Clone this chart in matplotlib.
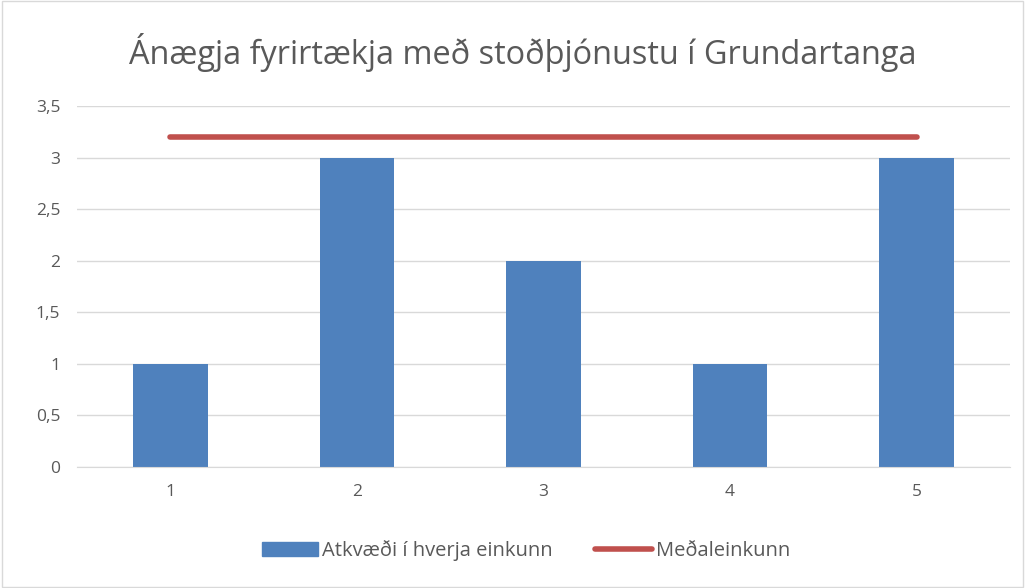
import matplotlib.pyplot as plt
from matplotlib.lines import Line2D
from matplotlib.patches import Patch, Rectangle

plt.rcParams['font.family'] = ['Open Sans', 'DejaVu Sans']

categories = [1, 2, 3, 4, 5]
votes = [1, 3, 2, 1, 3]
average = [3.2, 3.2, 3.2, 3.2, 3.2]
yticks = [0, 0.5, 1, 1.5, 2, 2.5, 3, 3.5]
ytick_labels = ['0', '0,5', '1', '1,5', '2', '2,5', '3', '3,5']

fig = plt.figure(figsize=(10.25, 5.88), dpi=100)
ax = fig.add_axes([77 / 1025, 1 - 467 / 588, 933 / 1025, 361 / 588])

ax.bar(categories, votes, width=0.4, color='#4F81BD', zorder=2)
ax.plot(categories, average, color='#C0504D', linewidth=4, solid_capstyle='round', zorder=3)

ax.set_xlim(0.5, 5.5)
ax.set_ylim(0, 3.5)
ax.set_yticks(yticks)
ax.set_yticklabels(ytick_labels)
ax.set_xticks(categories)
ax.grid(axis='y', color='#D9D9D9', linewidth=1, zorder=0)
for s in ['top', 'right', 'left']:
    ax.spines[s].set_visible(False)
ax.spines['bottom'].set_color('#D9D9D9')
ax.tick_params(length=0, labelsize=12.5, colors='#595959', pad=12)

fig.text(523 / 1025, 1 - 52 / 588, 'Ánægja fyrirtækja með stoðþjónustu í Grundartanga',
         ha='center', va='center', fontsize=23.4, color='#595959')

handles = [Patch(color='#4F81BD'),
           Line2D([0], [0], color='#C0504D', linewidth=4, solid_capstyle='round')]
fig.legend(handles, ['Atkvæði í hverja einkunn', 'Meðaleinkunn'],
           loc='center', bbox_to_anchor=(526 / 1025, 1 - 551 / 588), ncol=2,
           frameon=False, fontsize=14.5, labelcolor='#595959',
           handlelength=2.8, handletextpad=0.2, columnspacing=2.1)

fig.patches.append(Rectangle((0.002, 0.002), 0.996, 0.996, transform=fig.transFigure,
                             fill=False, edgecolor='#D9D9D9', linewidth=1))

fig.savefig('out.png', dpi=100)
